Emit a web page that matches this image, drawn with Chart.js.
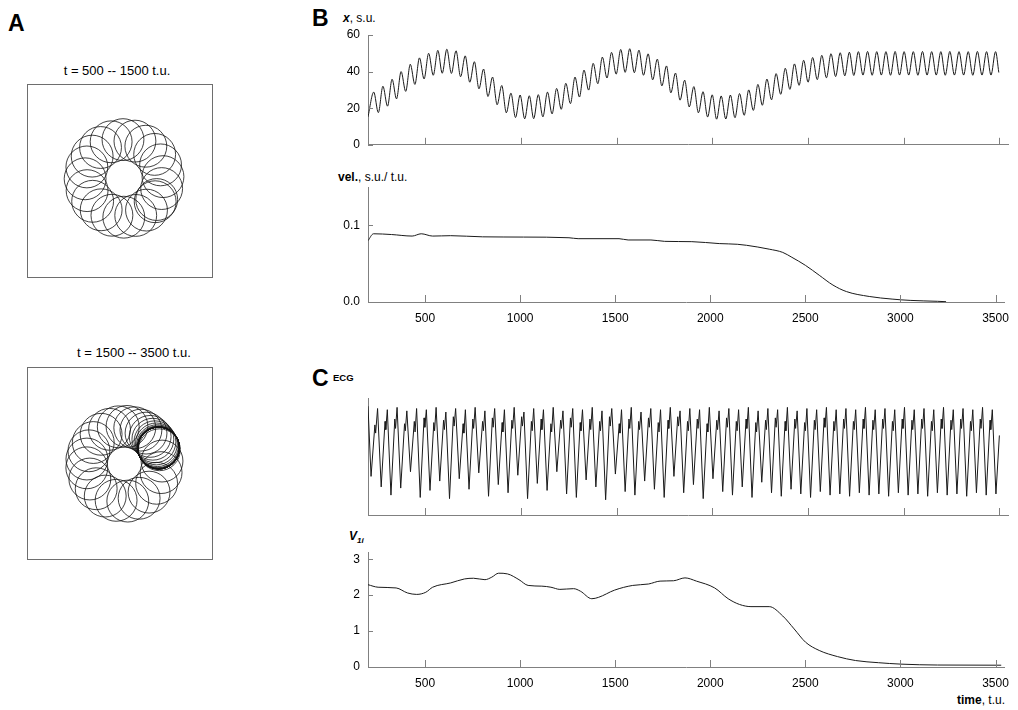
<!DOCTYPE html>
<html>
<head>
<meta charset="utf-8">
<script src="https://cdn.jsdelivr.net/npm/chart.js@4.4.1/dist/chart.umd.min.js"></script>
<style>
  body { margin: 0; background: #fff; width: 1018px; height: 710px; position: relative; overflow: hidden;
         font-family: "Liberation Sans", Arial, sans-serif; }
  canvas { position: absolute; }
  .t { position: absolute; white-space: nowrap; color: #000; font-size: 12px; line-height: 1; }
  .L { font-weight: bold; font-size: 23px; }
  sub { font-size: 8px; vertical-align: -3px; }
</style>
</head>
<body>
<div class="t L" style="left:8px;top:12px">A</div>
<div class="t" style="left:52px;top:64px;width:130px;text-align:center;font-size:13px">t = 500 -- 1500 t.u.</div>
<div class="t" style="left:69px;top:346px;width:130px;text-align:center;font-size:13px">t = 1500 -- 3500 t.u.</div>
<div class="t L" style="left:312px;top:7px">B</div>
<div class="t" style="left:343px;top:12px"><b><i>x</i></b>, s.u.</div>
<div class="t" style="left:338px;top:171px"><b>vel.</b>, s.u./ t.u.</div>
<div class="t L" style="left:312px;top:367px">C</div>
<div class="t" style="left:333px;top:373px;font-size:9.5px;font-weight:bold">ECG</div>
<div class="t" style="left:349px;top:530px"><b><i>V<sub>1i</sub></i></b></div>
<div class="t" style="right:13px;top:694px"><b>time</b>, t.u.</div>

<canvas id="loops-top" width="200" height="210" style="left:20px;top:78px"></canvas>
<canvas id="loops-bottom" width="200" height="210" style="left:20px;top:360px"></canvas>
<canvas id="x-chart" width="718" height="160" style="left:300px;top:0px"></canvas>
<canvas id="vel-chart" width="718" height="170" style="left:300px;top:160px"></canvas>
<canvas id="ecg-chart" width="718" height="145" style="left:300px;top:380px"></canvas>
<canvas id="v1-chart" width="718" height="180" style="left:300px;top:530px"></canvas>

<script>
// Tick labels
const timeTicks = [500, 1000, 1500, 2000, 2500, 3000, 3500];
const xTicks = [0, 20, 40, 60];
const velTicks = [0, 0.1];
const v1Ticks = [0, 1, 2, 3];

// Panel A: centres of the tip loops (s.u.), loop radius in s.u.
const loopR = 7.2;
const topLoopX = [44.64, 46.33, 46.79, 45.96, 43.93, 40.89, 37.14, 33.03, 28.95, 25.30, 22.42,
                  20.60, 20.00, 20.68, 22.59, 25.52, 29.22, 33.31, 37.41, 41.12, 44.10];
const topLoopY = [27.10, 30.89, 35.01, 39.07, 42.69, 45.51, 47.27, 47.79, 47.04, 45.07, 42.09,
                  38.36, 34.26, 30.17, 26.49, 23.56, 21.67, 21.00, 21.61, 23.45, 26.34];
const botLoopX = [45.55, 46.46, 46.14, 44.60, 42.00, 38.58, 34.68, 30.66, 26.92, 23.81, 21.62, 20.58,
                  20.61, 21.31, 22.80, 25.50, 28.40, 31.40, 34.41, 37.08, 39.20, 40.96, 42.37, 43.31,
                  44.02, 44.52, 44.87, 45.08, 45.18, 45.22, 45.25, 45.27, 45.28, 45.29, 45.30, 45.30,
                  45.31, 45.31, 45.31, 45.32, 45.32];
const botLoopY = [38.27, 34.35, 30.34, 26.63, 23.56, 21.43, 20.45, 20.71, 22.19, 24.74, 28.11, 32.00,
                  35.05, 37.91, 40.78, 43.64, 45.36, 46.23, 46.37, 45.90, 45.08, 44.05, 42.91, 41.93,
                  41.04, 40.29, 39.70, 39.30, 39.10, 39.00, 38.95, 38.92, 38.90, 38.88, 38.87, 38.86,
                  38.85, 38.85, 38.84, 38.84, 38.84];

// Panel B: x coordinate of the tip (turning points of the fast oscillation)
const xTime = [200, 230, 254, 278, 302, 326, 349, 373, 397, 421,
               445, 469, 493, 517, 541, 565, 588, 612, 636, 660,
               684, 708, 732, 756, 780, 804, 827, 851, 875, 899,
               923, 947, 971, 995, 1019, 1043, 1066, 1090, 1114, 1138,
               1162, 1186, 1210, 1234, 1258, 1282, 1305, 1329, 1353, 1377,
               1401, 1425, 1449, 1473, 1497, 1521, 1544, 1568, 1592, 1616,
               1640, 1664, 1688, 1712, 1736, 1760, 1783, 1807, 1831, 1855,
               1879, 1903, 1927, 1951, 1975, 1999, 2022, 2046, 2070, 2094,
               2118, 2142, 2166, 2190, 2214, 2238, 2261, 2285, 2309, 2333,
               2357, 2381, 2405, 2429, 2453, 2477, 2500, 2524, 2548, 2572,
               2596, 2620, 2644, 2668, 2692, 2716, 2739, 2763, 2787, 2811,
               2835, 2859, 2883, 2907, 2931, 2955, 2978, 3002, 3026, 3050,
               3074, 3098, 3122, 3146, 3170, 3194, 3217, 3241, 3265, 3289,
               3313, 3337, 3361, 3385, 3409, 3433, 3456, 3480, 3497];
const xValue = [15.3, 28.8, 17.6, 32.0, 21.1, 35.8, 25.1, 40.0, 29.2, 44.0,
                33.0, 47.5, 36.0, 50.0, 38.0, 51.6, 39.1, 52.2, 39.0, 51.4,
                37.2, 48.6, 34.2, 45.4, 30.6, 41.4, 26.4, 37.0, 21.9, 32.4,
                17.5, 28.2, 14.9, 27.2, 14.2, 26.8, 14.3, 27.4, 15.3, 28.8,
                16.9, 30.8, 19.4, 33.6, 22.5, 37.0, 26.1, 40.8, 29.9, 44.5,
                33.4, 47.9, 36.5, 50.5, 38.6, 52.1, 39.6, 52.5, 39.4, 51.7,
                38.0, 49.7, 35.5, 46.8, 32.2, 43.1, 28.4, 39.2, 24.4, 35.3,
                20.7, 31.8, 17.5, 29.0, 15.2, 27.3, 14.0, 26.7, 14.1, 27.2,
                14.8, 28.0, 16.1, 30.0, 18.8, 33.0, 21.6, 35.9, 24.6, 38.9,
                27.6, 41.8, 30.3, 44.2, 32.5, 46.2, 34.2, 47.7, 35.6, 48.9,
                36.6, 49.8, 37.3, 50.3, 37.7, 50.6, 37.9, 50.9, 38.1, 51.0,
                38.0, 50.9, 38.1, 50.9, 38.0, 51.0, 38.1, 50.9, 38.1, 50.9,
                38.0, 51.0, 38.1, 50.9, 38.1, 50.9, 38.0, 51.0, 38.1, 50.9,
                38.1, 50.9, 38.0, 51.0, 38.1, 50.9, 38.1, 50.9, 39.5];

// Panel B: drift velocity
const velTime = [200, 229, 324, 432, 480, 540, 635, 803, 1018, 1257, 1305, 1520, 1568, 1688, 1760, 1903,
                 2047, 2142, 2190, 2310, 2381, 2429, 2501, 2573, 2645, 2716, 2836, 2956, 3051, 3195, 3240];
const velValue = [0.080, 0.089, 0.088, 0.086, 0.089, 0.086, 0.0865, 0.085, 0.0847, 0.0838, 0.0826, 0.0826,
                  0.0809, 0.0809, 0.0791, 0.0787, 0.0762, 0.0753, 0.074, 0.0689, 0.0647, 0.0583, 0.0477,
                  0.0349, 0.0221, 0.0136, 0.0072, 0.0038, 0.0021, 0.0009, 0.0004];

// Panel C: ECG (arbitrary units, peak / trough / shoulder / notch of every beat)
const ecgTime = [200, 216, 236, 240,
  250, 269, 289, 293,   301, 320, 340, 344,   352, 371, 391, 395,   403, 422, 442, 446,
  454, 473, 493, 497,   505, 524, 544, 548,   556, 575, 595, 599,   607, 626, 646, 650,
  658, 677, 697, 701,   709, 728, 748, 752,   760, 779, 799, 803,   811, 830, 850, 854,
  862, 881, 901, 905,   913, 932, 952, 956,   964, 983, 1003, 1007, 1015, 1034, 1054, 1058,
  1066, 1085, 1105, 1109, 1117, 1136, 1156, 1160, 1168, 1187, 1207, 1211, 1219, 1238, 1258, 1262,
  1270, 1289, 1309, 1313, 1321, 1340, 1360, 1364, 1372, 1391, 1411, 1415, 1423, 1442, 1462, 1466,
  1474, 1493, 1513, 1517, 1525, 1544, 1564, 1568, 1576, 1595, 1615, 1619, 1627, 1646, 1666, 1670,
  1678, 1697, 1717, 1721, 1729, 1748, 1768, 1772, 1780, 1799, 1819, 1823, 1831, 1850, 1870, 1874,
  1882, 1901, 1921, 1925, 1933, 1952, 1972, 1976, 1984, 2003, 2023, 2027, 2035, 2054, 2074, 2078,
  2086, 2105, 2125, 2129, 2137, 2156, 2176, 2180, 2188, 2207, 2227, 2231, 2239, 2258, 2278, 2282,
  2290, 2309, 2329, 2333, 2341, 2360, 2380, 2384, 2392, 2411, 2431, 2435, 2443, 2462, 2482, 2486,
  2494, 2513, 2533, 2537, 2545, 2564, 2584, 2588, 2596, 2615, 2635, 2639, 2647, 2666, 2686, 2690,
  2698, 2717, 2737, 2741, 2749, 2768, 2788, 2792, 2800, 2819, 2839, 2843, 2851, 2870, 2890, 2894,
  2902, 2921, 2941, 2945, 2953, 2972, 2992, 2996, 3004, 3023, 3043, 3047, 3055, 3074, 3094, 3098,
  3106, 3125, 3145, 3149, 3157, 3176, 3196, 3200, 3208, 3227, 3247, 3251, 3259, 3278, 3298, 3302,
  3310, 3329, 3349, 3353, 3361, 3380, 3400, 3404, 3412, 3431, 3451, 3455,
  3463, 3482, 3500];
const ecgValue = [93, 33, 77, 70,
  91, 24, 80, 73,   90, 17, 82, 74,   92, 23, 78, 72,   89, 37, 80, 71,
  91, 15, 83, 75,   90, 21, 79, 72,   92, 29, 81, 73,   88, 14, 84, 76,
  91, 31, 78, 70,   90, 22, 82, 74,   92, 36, 80, 72,   89, 16, 83, 75,
  91, 26, 79, 71,   90, 19, 81, 74,   92, 34, 84, 76,   88, 14, 80, 72,
  91, 27, 82, 73,   90, 21, 78, 71,   92, 37, 81, 74,   89, 18, 83, 75,
  91, 15, 79, 72,   90, 30, 82, 73,   92, 24, 80, 72,   89, 13, 84, 76,
  91, 35, 78, 70,   90, 20, 82, 74,   92, 17, 80, 73,   88, 29, 83, 75,
  91, 22, 79, 71,   90, 15, 81, 74,   92, 33, 84, 76,   89, 19, 80, 72,
  91, 26, 82, 74,   90, 14, 78, 71,   92, 31, 81, 73,   89, 20, 83, 75,
  91, 17, 80, 72,   90, 24, 82, 74,   92, 15, 79, 71,   89, 28, 81, 73,
  91, 19, 83, 75,   90, 16, 80, 72,   92, 22, 82, 74,   89, 18, 79, 72,
  91, 15, 81, 73,   90, 20, 83, 75,   92, 17, 80, 72,   90, 18, 82, 74,
  91, 16, 80, 73,   90, 19, 82, 74,   92, 17, 81, 73,   90, 18, 82, 74,
  91, 16, 80, 72,   90, 19, 82, 74,   92, 17, 81, 73,   90, 18, 82, 74,
  91, 16, 80, 72,   90, 19, 82, 74,   92, 17, 81, 73,   90, 18, 82, 74,
  91, 16, 80, 72,   90, 19, 82, 74,   92, 17, 81, 73,
  90, 18, 68];

// Panel C: V1i
const v1Time = [200, 253, 348, 408, 456, 504, 540, 635, 707, 755, 815, 851, 887, 934, 994, 1042, 1114,
                1162, 1209, 1281, 1317, 1377, 1413, 1497, 1592, 1676, 1736, 1807, 1867, 1927, 2023, 2094,
                2154, 2214, 2310, 2381, 2441, 2501, 2573, 2669, 2764, 2884, 3003, 3195, 3530];
const v1Value = [2.29, 2.22, 2.20, 2.06, 2.02, 2.08, 2.22, 2.34, 2.45, 2.47, 2.43, 2.50, 2.61, 2.59, 2.43,
                 2.27, 2.25, 2.22, 2.16, 2.18, 2.11, 1.90, 1.94, 2.14, 2.27, 2.31, 2.39, 2.40, 2.48, 2.39,
                 2.20, 1.90, 1.74, 1.68, 1.68, 1.42, 1.06, 0.69, 0.46, 0.29, 0.18, 0.12, 0.08, 0.055, 0.05];

const axisColor = '#808080';
const lineColor = '#1a1a1a';

Chart.defaults.font.family = "'Liberation Sans', Arial, sans-serif";
Chart.defaults.font.size = 12;
Chart.defaults.color = '#000';
Chart.defaults.animation = false;
Chart.defaults.plugins.legend.display = false;
Chart.defaults.plugins.tooltip.enabled = false;

const toPoints = (xs, ys) => xs.map((x, i) => ({ x: x, y: ys[i] }));
const fixedTicks = list => scale => { scale.ticks = list.map(v => ({ value: v })); };

// tick marks drawn inside the plot, like the original figure
const innerTicks = {
  id: 'innerTicks',
  afterDraw(chart, args, opts) {
    const { ctx, chartArea: a, scales } = chart;
    ctx.save();
    ctx.strokeStyle = axisColor;
    ctx.lineWidth = 1;
    ctx.beginPath();
    if (opts.x) {
      scales.x.ticks.forEach(t => {
        const px = Math.round(scales.x.getPixelForValue(t.value)) + 0.5;
        ctx.moveTo(px, a.bottom);
        ctx.lineTo(px, a.bottom - opts.x);
      });
    }
    if (opts.y) {
      scales.y.ticks.forEach(t => {
        const py = Math.round(scales.y.getPixelForValue(t.value)) + 0.5;
        ctx.moveTo(a.left, py);
        ctx.lineTo(a.left + opts.y, py);
      });
    }
    ctx.stroke();
    ctx.restore();
  }
};

// box around the loop plots
const frame = {
  id: 'frame',
  afterDraw(chart) {
    const { ctx, chartArea: a } = chart;
    ctx.save();
    ctx.strokeStyle = '#6e6e6e';
    ctx.lineWidth = 1;
    ctx.strokeRect(a.left + 0.5, a.top + 0.5, a.width - 1, a.height - 1);
    ctx.restore();
  }
};

function timeChart(id, points, o) {
  return new Chart(document.getElementById(id), {
    type: 'line',
    data: {
      datasets: [{
        data: points,
        borderColor: lineColor,
        borderWidth: 1,
        pointRadius: 0,
        cubicInterpolationMode: o.smooth ? 'monotone' : 'default',
        tension: 0
      }]
    },
    options: {
      responsive: false,
      layout: { padding: { left: 0, right: 10, top: o.top, bottom: 0 } },
      scales: {
        x: {
          type: 'linear', min: 200, max: 3545,
          grid: { display: false, drawTicks: false },
          border: { color: axisColor },
          ticks: { display: o.xLabels, padding: 9, maxRotation: 0, autoSkip: false,
                   callback: v => String(v) },
          afterBuildTicks: fixedTicks(timeTicks),
          afterFit: s => { s.height = o.xh; }
        },
        y: {
          type: 'linear', min: o.yMin, max: o.yMax,
          grid: { display: false, drawTicks: false },
          border: { color: axisColor },
          ticks: { display: !!o.yTicks, padding: 8, autoSkip: false,
                   callback: o.yFmt || (v => String(v)) },
          afterBuildTicks: fixedTicks(o.yTicks || []),
          afterFit: s => { s.width = 68; }
        }
      },
      plugins: { innerTicks: { x: 7, y: o.yTicks ? 5 : 0 } }
    },
    plugins: [innerTicks]
  });
}

function loopChart(id, xs, ys, pad) {
  return new Chart(document.getElementById(id), {
    type: 'scatter',
    data: {
      datasets: [{
        data: toPoints(xs, ys),
        pointStyle: 'circle',
        pointRadius: c => {
          const s = c.chart.scales.x;
          return s.getPixelForValue(loopR) - s.getPixelForValue(0);
        },
        pointBackgroundColor: 'rgba(0,0,0,0)',
        pointBorderColor: '#111',
        pointBorderWidth: 0.8
      }]
    },
    options: {
      responsive: false,
      layout: { padding: pad },
      scales: {
        x: { type: 'linear', display: false, min: 0, max: 64 },
        y: { type: 'linear', display: false, min: 0, max: 67 }
      }
    },
    plugins: [frame]
  });
}

loopChart('loops-top', topLoopX, topLoopY, { left: 7, right: 7, top: 6, bottom: 10 });
loopChart('loops-bottom', botLoopX, botLoopY, { left: 7, right: 7, top: 7, bottom: 10 });

timeChart('x-chart', toPoints(xTime, xValue),
  { smooth: true, top: 35, xh: 13, xLabels: false, yMin: 0, yMax: 60, yTicks: xTicks });
timeChart('vel-chart', toPoints(velTime, velValue),
  { smooth: true, top: 27, xh: 28, xLabels: true, yMin: 0, yMax: 0.15, yTicks: velTicks,
    yFmt: v => v.toFixed(1) });
timeChart('ecg-chart', toPoints(ecgTime, ecgValue),
  { smooth: false, top: 18, xh: 10, xLabels: false, yMin: 0, yMax: 100 });
timeChart('v1-chart', toPoints(v1Time, v1Value),
  { smooth: true, top: 22, xh: 43, xLabels: true, yMin: 0, yMax: 3.2, yTicks: v1Ticks });
</script>
</body>
</html>
